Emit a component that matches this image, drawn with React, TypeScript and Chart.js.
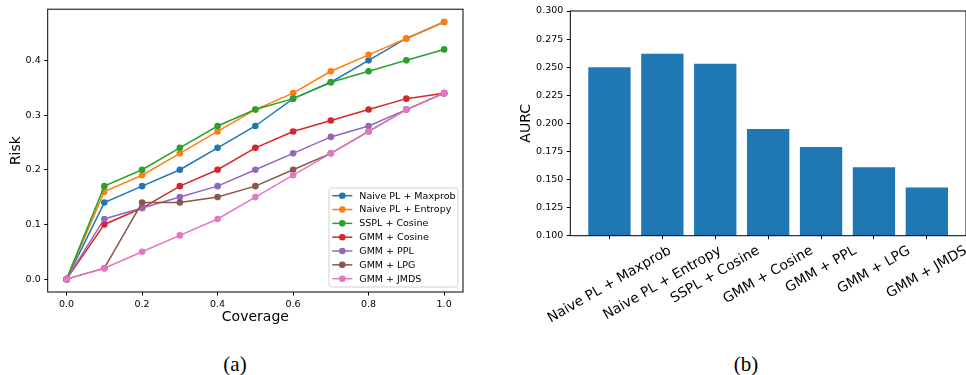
import React, { useEffect, useRef } from "react";
import { Chart, registerables } from "chart.js";

Chart.register(...registerables);

// ---------- data ----------
const coverage = [0, 0.1, 0.2, 0.3, 0.4, 0.5, 0.6, 0.7, 0.8, 0.9, 1.0];
const seriesLabels = [
  "Naive PL + Maxprob",
  "Naive PL + Entropy",
  "SSPL + Cosine",
  "GMM + Cosine",
  "GMM + PPL",
  "GMM + LPG",
  "GMM + JMDS",
];
const naivePlMaxprob = [0, 0.14, 0.17, 0.2, 0.24, 0.28, 0.33, 0.36, 0.4, 0.44, 0.47];
const naivePlEntropy = [0, 0.16, 0.19, 0.23, 0.27, 0.31, 0.34, 0.38, 0.41, 0.44, 0.47];
const ssplCosine = [0, 0.17, 0.2, 0.24, 0.28, 0.31, 0.33, 0.36, 0.38, 0.4, 0.42];
const gmmCosine = [0, 0.1, 0.13, 0.17, 0.2, 0.24, 0.27, 0.29, 0.31, 0.33, 0.34];
const gmmPpl = [0, 0.11, 0.13, 0.15, 0.17, 0.2, 0.23, 0.26, 0.28, 0.31, 0.34];
const gmmLpg = [0, 0.02, 0.14, 0.14, 0.15, 0.17, 0.2, 0.23, 0.27, 0.31, 0.34];
const gmmJmds = [0, 0.02, 0.05, 0.08, 0.11, 0.15, 0.19, 0.23, 0.27, 0.31, 0.34];
const seriesValues = [naivePlMaxprob, naivePlEntropy, ssplCosine, gmmCosine, gmmPpl, gmmLpg, gmmJmds];
const seriesColors = ["#1f77b4", "#ff7f0e", "#2ca02c", "#d62728", "#9467bd", "#8c564b", "#e377c2"];
const coverageTicks = [0, 0.2, 0.4, 0.6, 0.8, 1.0];
const riskTicks = [0, 0.1, 0.2, 0.3, 0.4];

const barCategories = [
  "Naive PL + Maxprob",
  "Naive PL + Entropy",
  "SSPL + Cosine",
  "GMM + Cosine",
  "GMM + PPL",
  "GMM + LPG",
  "GMM + JMDS",
];
const aurcValues = [0.25, 0.262, 0.253, 0.195, 0.179, 0.161, 0.143];
const aurcTicks = [0.1, 0.125, 0.15, 0.175, 0.2, 0.225, 0.25, 0.275, 0.3];
const barColor = "#1f77b4";

const FONT = "DejaVu Sans";

// ---------- plugins ----------
const framePlugin = {
  id: "frame",
  afterDraw(chart: any) {
    const { ctx, chartArea: a } = chart;
    ctx.save();
    ctx.strokeStyle = "#000";
    ctx.lineWidth = 1;
    ctx.strokeRect(a.left, a.top, a.right - a.left, a.bottom - a.top);
    ctx.restore();
  },
};

const insideLegendPlugin = {
  id: "insideLegend",
  afterDraw(chart: any) {
    const { ctx, chartArea: a } = chart;
    const ds = chart.data.datasets;
    const fontSize = 9.5;
    const rowH = 13.83;
    const boxW = 129;
    const boxH = 99;
    const x0 = a.right - 5 - boxW;
    const y0 = a.bottom - 5 - boxH;
    ctx.save();
    const r = 2.5;
    ctx.beginPath();
    ctx.moveTo(x0 + r, y0);
    ctx.lineTo(x0 + boxW - r, y0);
    ctx.quadraticCurveTo(x0 + boxW, y0, x0 + boxW, y0 + r);
    ctx.lineTo(x0 + boxW, y0 + boxH - r);
    ctx.quadraticCurveTo(x0 + boxW, y0 + boxH, x0 + boxW - r, y0 + boxH);
    ctx.lineTo(x0 + r, y0 + boxH);
    ctx.quadraticCurveTo(x0, y0 + boxH, x0, y0 + boxH - r);
    ctx.lineTo(x0, y0 + r);
    ctx.quadraticCurveTo(x0, y0, x0 + r, y0);
    ctx.closePath();
    ctx.fillStyle = "rgba(255,255,255,0.8)";
    ctx.fill();
    ctx.strokeStyle = "rgba(204,204,204,0.9)";
    ctx.lineWidth = 1;
    ctx.stroke();
    ctx.font = `${fontSize}px "${FONT}"`;
    ctx.textBaseline = "middle";
    ctx.textAlign = "left";
    for (let i = 0; i < ds.length; i++) {
      const y = y0 + 7.7 + i * rowH;
      const lx1 = x0 + 3.3;
      const lx2 = lx1 + 20;
      ctx.strokeStyle = ds[i].borderColor;
      ctx.lineWidth = 1.5;
      ctx.beginPath();
      ctx.moveTo(lx1, y);
      ctx.lineTo(lx2, y);
      ctx.stroke();
      ctx.fillStyle = ds[i].borderColor;
      ctx.beginPath();
      ctx.arc((lx1 + lx2) / 2, y, 3.3, 0, Math.PI * 2);
      ctx.fill();
      ctx.fillStyle = "#000";
      ctx.fillText(ds[i].label, lx2 + 7, y + 0.5);
    }
    ctx.restore();
  },
};

const rotatedLabelsPlugin = {
  id: "rotatedLabels",
  afterDraw(chart: any) {
    const { ctx, chartArea: a } = chart;
    const xs = chart.scales.x;
    const fontSize = 13.8;
    const ang = (30 * Math.PI) / 180;
    ctx.save();
    ctx.font = `${fontSize}px "${FONT}"`;
    ctx.fillStyle = "#000";
    ctx.textAlign = "center";
    ctx.textBaseline = "middle";
    const top = a.bottom + 3.5 + 3.5;
    const h = fontSize * 1.17;
    barCategories.forEach((label, i) => {
      const px = xs.getPixelForValue(i);
      const L = ctx.measureText(label).width;
      const bboxH = L * Math.sin(ang) + h * Math.cos(ang);
      ctx.save();
      ctx.translate(px, top + bboxH / 2);
      ctx.rotate(-ang);
      ctx.fillText(label, 0, 0);
      ctx.restore();
    });
    ctx.restore();
  },
};

// ---------- charts ----------
function RiskChart() {
  const ref = useRef<HTMLCanvasElement>(null);
  useEffect(() => {
    const n = seriesValues.length;
    const chart = new Chart(ref.current as HTMLCanvasElement, {
      type: "line",
      data: {
        datasets: seriesValues.map((vals, i) => ({
          label: seriesLabels[i],
          data: coverage.map((c, j) => ({ x: c, y: vals[j] })),
          borderColor: seriesColors[i],
          backgroundColor: seriesColors[i],
          borderWidth: 1.5,
          pointRadius: 3.3,
          pointBorderWidth: 0,
          pointBackgroundColor: seriesColors[i],
          fill: false,
          tension: 0,
          order: n - 1 - i,
        })),
      },
      options: {
        responsive: false,
        animation: false,
        devicePixelRatio: 1,
        layout: { padding: { top: 7, right: 7, left: 0, bottom: 0 } },
        plugins: { legend: { display: false }, tooltip: { enabled: false } },
        scales: {
          x: {
            type: "linear",
            min: -0.05,
            max: 1.05,
            afterBuildTicks: (s: any) => {
              s.ticks = coverageTicks.map((v) => ({ value: v }));
            },
            afterFit: (s: any) => {
              s.height = 48;
            },
            grid: { display: true, drawOnChartArea: false, drawTicks: true, tickLength: 3.5, tickColor: "#000" },
            border: { display: false },
            ticks: {
              callback: (v: any) => Number(v).toFixed(1),
              color: "#000",
              font: { family: FONT, size: 9.5 },
              padding: 3,
              maxRotation: 0,
              autoSkip: false,
            },
            title: {
              display: true,
              text: "Coverage",
              color: "#000",
              font: { family: FONT, size: 14 },
              padding: { top: 0, bottom: 14 },
            },
          },
          y: {
            type: "linear",
            min: -0.0235,
            max: 0.4935,
            afterBuildTicks: (s: any) => {
              s.ticks = riskTicks.map((v) => ({ value: v }));
            },
            afterFit: (s: any) => {
              s.width = 47.7;
            },
            grid: { display: true, drawOnChartArea: false, drawTicks: true, tickLength: 3.5, tickColor: "#000" },
            border: { display: false },
            ticks: {
              callback: (v: any) => Number(v).toFixed(1),
              color: "#000",
              font: { family: FONT, size: 9.5 },
              padding: 3.5,
              autoSkip: false,
            },
            title: {
              display: true,
              text: "Risk",
              color: "#000",
              font: { family: FONT, size: 14 },
              padding: { top: 8, bottom: 0 },
            },
          },
        },
      },
      plugins: [framePlugin, insideLegendPlugin],
    } as any);
    return () => chart.destroy();
  }, []);
  return <canvas ref={ref} width={470} height={340} style={{ position: "absolute", left: 0, top: 0 }} />;
}

function AurcChart() {
  const ref = useRef<HTMLCanvasElement>(null);
  useEffect(() => {
    const chart = new Chart(ref.current as HTMLCanvasElement, {
      type: "bar",
      data: {
        datasets: [
          {
            label: "AURC",
            data: aurcValues.map((v, i) => ({ x: i, y: v })),
            backgroundColor: barColor,
            borderWidth: 0,
            barPercentage: 0.8,
            categoryPercentage: 1,
          },
        ],
      },
      options: {
        responsive: false,
        animation: false,
        devicePixelRatio: 1,
        layout: { padding: { top: 11, right: 0, left: 0, bottom: 0 } },
        plugins: { legend: { display: false }, tooltip: { enabled: false } },
        scales: {
          x: {
            type: "linear",
            min: -0.74,
            max: 6.74,
            offset: false,
            afterBuildTicks: (s: any) => {
              s.ticks = barCategories.map((_, i) => ({ value: i }));
            },
            afterFit: (s: any) => {
              s.height = 104.3;
            },
            grid: {
              display: true,
              offset: false,
              drawOnChartArea: false,
              drawTicks: true,
              tickLength: 3.5,
              tickColor: "#000",
            },
            border: { display: false },
            ticks: { display: false },
          },
          y: {
            type: "linear",
            min: 0.1,
            max: 0.3,
            afterBuildTicks: (s: any) => {
              s.ticks = aurcTicks.map((v) => ({ value: v }));
            },
            afterFit: (s: any) => {
              s.width = 90.3;
            },
            grid: { display: true, drawOnChartArea: false, drawTicks: true, tickLength: 3.5, tickColor: "#000" },
            border: { display: false },
            ticks: {
              callback: (v: any) => Number(v).toFixed(3),
              color: "#000",
              font: { family: FONT, size: 9.5 },
              padding: 3.5,
              autoSkip: false,
            },
            title: {
              display: true,
              text: "AURC",
              color: "#000",
              font: { family: FONT, size: 14 },
              padding: { top: 38, bottom: 0 },
            },
          },
        },
      },
      plugins: [framePlugin, rotatedLabelsPlugin],
    } as any);
    return () => chart.destroy();
  }, []);
  return <canvas ref={ref} width={486} height={340} style={{ position: "absolute", left: 480, top: 0 }} />;
}

export default function App() {
  const capStyle: React.CSSProperties = {
    position: "absolute",
    fontFamily: '"Liberation Serif", serif',
    fontSize: 21,
    lineHeight: "24px",
    color: "#000",
    width: 100,
    textAlign: "center",
  };
  return (
    <div style={{ position: "fixed", left: 0, top: 0, width: 966, height: 375, background: "#fff", overflow: "hidden" }}>
      <RiskChart />
      <AurcChart />
      <div style={{ ...capStyle, left: 185, top: 352 }}>(a)</div>
      <div style={{ ...capStyle, left: 696, top: 352 }}>(b)</div>
    </div>
  );
}
